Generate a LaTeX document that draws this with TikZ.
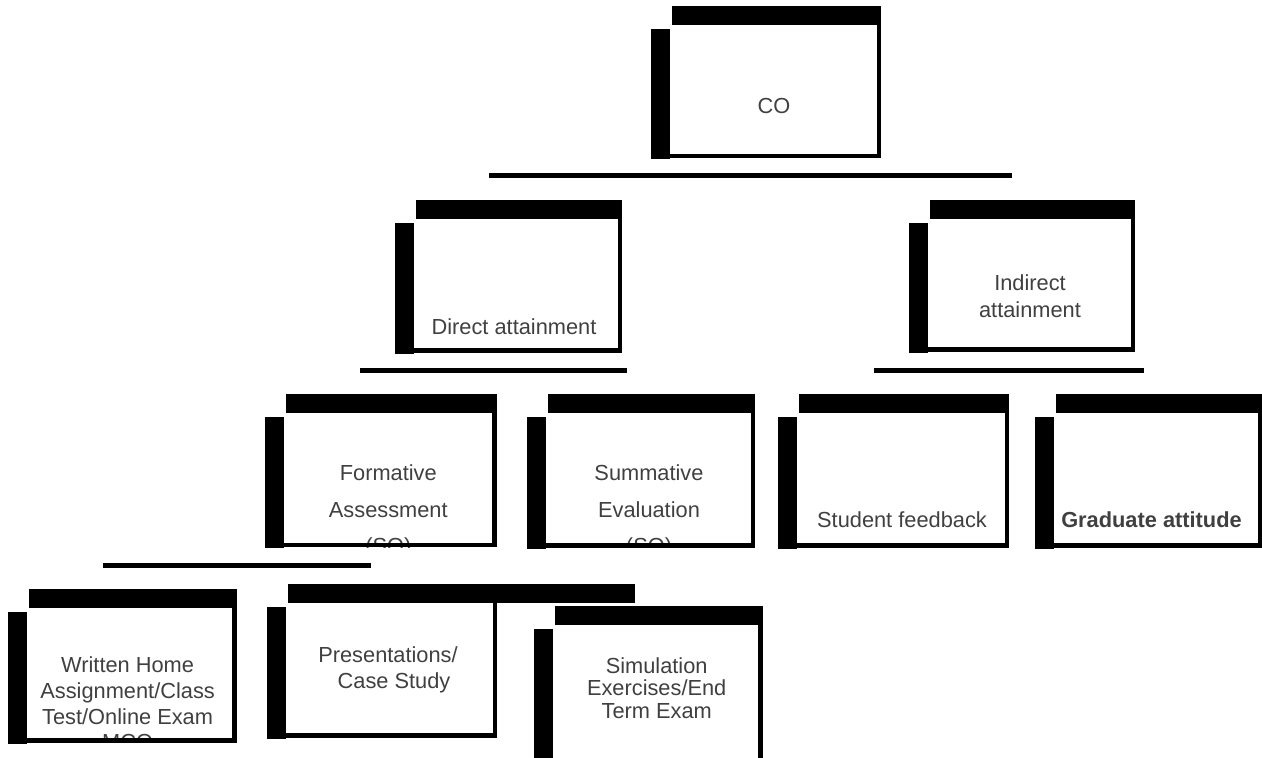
\documentclass[tikz,border=0pt]{standalone}
\usepackage{fontspec}
\setmainfont{Liberation Sans}
\definecolor{inkgray}{HTML}{404040}

\begin{document}
\begin{tikzpicture}[x=1pt, y=-1pt, inner sep=0pt, outer sep=0pt,
  sketchbox/.style 2 args={minimum width=#1pt, minimum height=#2pt},
  lbl/.style={text=inkgray, align=center, anchor=base, font=\fontsize{21.8}{26}\selectfont},
  rim/.style={line width=4.5pt},
  rule/.style={line width=5pt}]
\useasboundingbox (0,0) rectangle (1262,758);
\clip (0,0) rectangle (1262,758);
\node (co) at (774.5,90.5) [sketchbox={209}{131}] {};
\node (dir) at (517,284.75) [sketchbox={206}{131.5}] {};
\node (ind) at (1030.5,284.25) [sketchbox={205}{130.5}] {};
\node (form) at (389.25,479) [sketchbox={210.5}{132}] {};
\node (summ) at (649.5,479.25) [sketchbox={207}{132.5}] {};
\node (stud) at (902,479.25) [sketchbox={210}{132.5}] {};
\node (grad) at (1157,479.25) [sketchbox={206}{132.5}] {};
\node (writ) at (130.75,674.25) [sketchbox={207.5}{132.5}] {};
\node (pres) at (390.5,669.25) [sketchbox={209}{132.5}] {};
\node (simu) at (656.75,700) [sketchbox={207.5}{150}] {};
\node (cotxt) at (774,113) [lbl] {CO};
\node (dirtxt) at (514,334) [lbl] {Direct attainment};
\node (indtxt) at (1030,317.3) [lbl, font=\fontsize{21.8}{26.7}\selectfont] {Indirect\\attainment};
\begin{scope}
\clip (form.north west) rectangle ([yshift=-2.25pt]summ.south east);
\node (formtxt) at (388.3,553.7) [lbl, font=\fontsize{21.8}{36.5}\selectfont] {Formative\\Assessment\\(SO)};
\node (summtxt) at (649,553.7) [lbl, font=\fontsize{21.8}{36.5}\selectfont] {Summative\\Evaluation\\(SO)};
\end{scope}
\node (studtxt) at (902,527.7) [lbl] {Student feedback};
\node (gradtxt) at (1151.5,527.7) [lbl, font=\fontsize{21.8}{26}\selectfont\bfseries] {Graduate attitude};
\begin{scope}
\clip (writ.north west) rectangle ([yshift=-2.25pt]writ.south east);
\node (writtxt) at (127.6,749.8) [lbl, font=\fontsize{21.8}{25.7}\selectfont] {Written Home\\Assignment/Class\\Test/Online Exam\\MCQ};
\end{scope}
\node (prestxt) at (394,688.3) [lbl, font=\fontsize{21.8}{25.6}\selectfont] {Presentations/\hspace*{12pt}\\Case Study};
\node (simutxt) at (656.7,718.3) [lbl, font=\fontsize{21.8}{22.5}\selectfont] {Simulation\\Exercises/End\\Term Exam};
\foreach \b in {co,dir,ind,form,summ,stud,grad,writ,pres,simu}{
  \fill ([xshift=2pt]\b.north west) rectangle ([xshift=2pt,yshift=19pt]\b.north east);
  \fill ([xshift=-19pt,yshift=-4pt]\b.north west) rectangle ([yshift=-3pt]\b.south west);
  \draw[rim] (\b.north east) -- (\b.south east) -- (\b.south west);
}
\fill ([xshift=2pt]pres.north east) rectangle (635,584);
\coordinate (l1a) at (489,175.5);
\coordinate (l1b) at (1012,175.5);
\coordinate (l2a) at (360,370.5);
\coordinate (l2b) at (627,370.5);
\coordinate (l3a) at (874,370.5);
\coordinate (l3b) at (1144,370.5);
\coordinate (l4a) at (103,565.5);
\coordinate (l4b) at (371,565.5);
\draw[rule] (l1a) -- (l1b);
\draw[rule] (l2a) -- (l2b);
\draw[rule] (l3a) -- (l3b);
\draw[rule] (l4a) -- (l4b);
\end{tikzpicture}
\end{document}
